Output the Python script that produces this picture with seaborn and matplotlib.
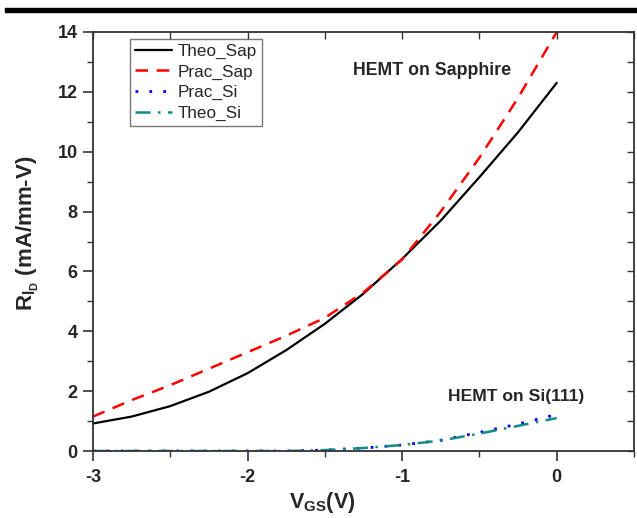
import numpy as np
import pandas as pd
import matplotlib
matplotlib.use("Agg")
import matplotlib.pyplot as plt
import seaborn as sns
from matplotlib.ticker import MultipleLocator
from matplotlib.patches import Rectangle

# ---- data ----
vgs = [-3.0, -2.75, -2.5, -2.25, -2.0, -1.75, -1.5, -1.25, -1.0, -0.75, -0.5, -0.25, 0.0]
theo_sap = [0.92, 1.15, 1.5, 1.98, 2.6, 3.37, 4.25, 5.26, 6.42, 7.7, 9.15, 10.65, 12.3]
prac_sap = [1.15, 1.7, 2.2, 2.75, 3.3, 3.85, 4.45, 5.3, 6.4, 8.0, 9.8, 11.8, 14.0]
prac_si = [0.0, 0.0, 0.0, 0.0, 0.0, 0.0, 0.03, 0.1, 0.2, 0.36, 0.62, 0.9, 1.22]
theo_si = [0.0, 0.0, 0.0, 0.0, 0.0, 0.0, 0.03, 0.1, 0.2, 0.35, 0.58, 0.84, 1.1]
series_names = ["Theo_Sap", "Prac_Sap", "Prac_Si", "Theo_Si"]

sns.set_style("ticks")
plt.rcParams['font.family'] = ['Liberation Sans', 'DejaVu Sans']
plt.rcParams['mathtext.fontset'] = 'custom'
plt.rcParams['mathtext.rm'] = 'Liberation Sans:bold'
plt.rcParams['mathtext.it'] = 'Liberation Sans:bold'
plt.rcParams['mathtext.bf'] = 'Liberation Sans:bold'

fig = plt.figure(figsize=(6.37, 5.18), dpi=100)
ax = fig.add_axes([93/637, 1-451/518, (634-93)/637, (451-32)/518])

styles = {
    "Theo_Sap": dict(color="black", linestyle="-", lw=1.6),
    "Prac_Sap": dict(color="#ff0000", linestyle=(0, (5, 3.5)), lw=1.8),
    "Prac_Si": dict(color="#0000ff", linestyle=(0, (1, 4)), lw=2.0),
    "Theo_Si": dict(color="#138a8a", linestyle=(0, (6, 3, 1, 3)), lw=1.8),
}
data = {"Theo_Sap": theo_sap, "Prac_Sap": prac_sap, "Prac_Si": prac_si, "Theo_Si": theo_si}
for name in series_names:
    st = styles[name]
    sns.lineplot(x=vgs, y=data[name], ax=ax, label=name, color=st["color"],
                 linestyle=st["linestyle"], linewidth=st["lw"])

ax.set_xlim(-3, 0.5)
ax.set_ylim(0, 14)
ax.set_xticks([-3, -2, -1, 0])
ax.set_xticklabels(["-3", "-2", "-1", "0"])
ax.xaxis.set_minor_locator(MultipleLocator(0.5))
ax.set_yticks([0, 2, 4, 6, 8, 10, 12, 14])
ax.yaxis.set_minor_locator(MultipleLocator(1))
ax.tick_params(which="major", direction="out", length=7, width=1.2, color="#333333",
               labelsize=13, pad=4)
ax.tick_params(axis="x", which="major", pad=6)
ax.tick_params(which="minor", direction="out", length=4, width=1.0, color="#333333")
for lab in ax.get_xticklabels() + ax.get_yticklabels():
    lab.set_fontweight("bold")

for s in ax.spines.values():
    s.set_visible(True)
    s.set_linewidth(1.3)
    s.set_color("#333333")

top = ax.secondary_xaxis('top')
top.set_xticks(np.arange(-3, 0.51, 0.5))
top.tick_params(direction="in", length=5, width=1.0, color="#333333", labeltop=False)
top.spines['top'].set_visible(False)
right = ax.secondary_yaxis('right')
right.set_yticks(np.arange(0, 14.1, 1))
right.tick_params(direction="in", length=5, width=1.0, color="#333333", labelright=False)
right.spines['right'].set_visible(False)

ax.set_xlabel(r"V$_{\mathregular{GS}}$(V)", fontsize=15.5, fontweight="bold")
ax.xaxis.set_label_coords(0.423, -0.092)
ax.set_ylabel(r"R$_{\mathregular{I_D}}$ (mA/mm-V)", fontsize=16, fontweight="bold")
ax.yaxis.set_label_coords(-0.097, 0.52)

ax.text(0.48, 0.908, "HEMT on Sapphire", transform=ax.transAxes, fontsize=12.8,
        fontweight="bold", ha="left", va="center")
ax.text(0.656, 0.131, "HEMT on Si(111)", transform=ax.transAxes, fontsize=12.6,
        fontweight="bold", ha="left", va="center")

leg = ax.legend(loc="upper left", bbox_to_anchor=(0.068, 0.984), frameon=True, fancybox=False,
                edgecolor="#555555", fontsize=12.3, handlelength=2.2, handletextpad=0.3,
                borderpad=0.3, labelspacing=0.32, borderaxespad=0)
leg.get_frame().set_linewidth(1.0)

# thick black bar at top of figure
fig.patches.append(Rectangle((5/637, 1-12.3/518), 632/637, 4.2/518, transform=fig.transFigure,
                             color="black", zorder=10))

fig.savefig("out.png", dpi=100)
